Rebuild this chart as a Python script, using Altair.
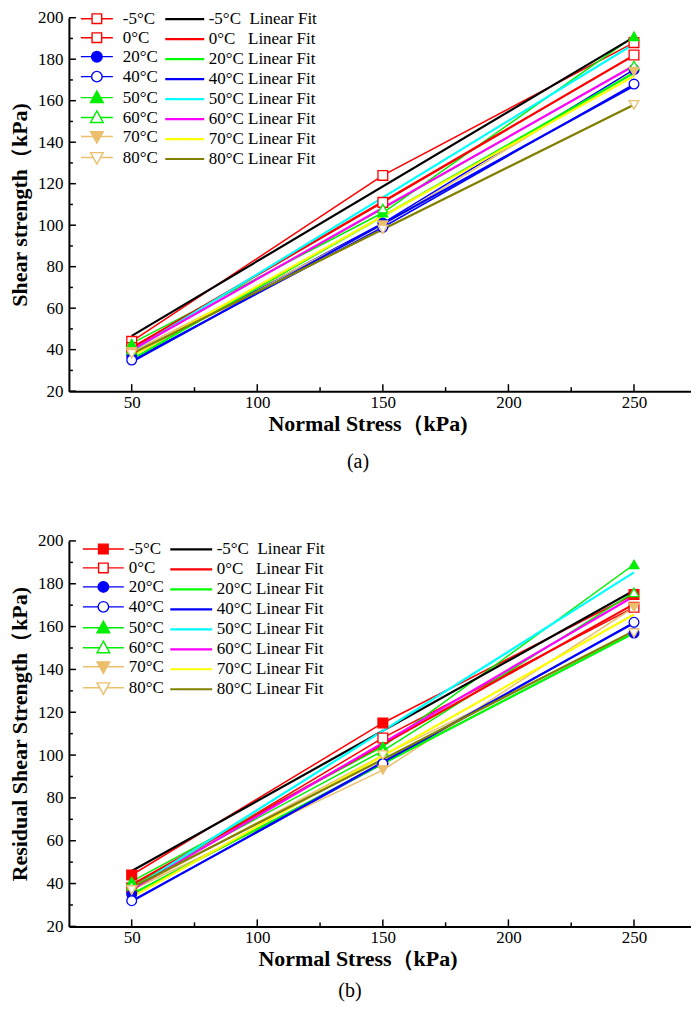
import altair as alt
import pandas as pd

# ---------------- data ----------------
temps = ["-5°C", "\u20040°C", "20°C", "40°C", "50°C", "60°C", "70°C", "80°C"]
fit_labels = ["-5°C\u00a0 Linear Fit", "0°C\u00a0\u00a0 Linear Fit", "20°C Linear Fit",
              "40°C Linear Fit", "50°C Linear Fit", "60°C Linear Fit",
              "70°C Linear Fit", "80°C Linear Fit"]
stress = [50, 150, 250]

# (a) shear strength, kPa
shear_m5 = [44, 124, 188]
shear_0 = [41, 111, 182]
shear_20 = [37, 101, 175]
shear_40 = [35, 99, 168]
shear_50 = [43, 106, 191]
shear_60 = [40, 108, 177]
shear_70 = [39, 100, 174]
shear_80 = [38, 98, 158]

# (b) residual shear strength, kPa
res_m5 = [44, 115, 175]
res_0 = [38, 108, 169]
res_20 = [35, 96, 157]
res_40 = [32, 96, 162]
res_50 = [41, 104, 189]
res_60 = [39, 102, 176]
res_70 = [37, 93, 169]
res_80 = [37, 100, 157]

y_ticks = [20, 40, 60, 80, 100, 120, 140, 160, 180, 200]
y_minor = [30, 50, 70, 90, 110, 130, 150, 170, 190]
x_ticks = [50, 100, 150, 200, 250]
x_minor = [75, 125, 175, 225]

# ---------------- styles ----------------
RED, BLUE, GREEN, TAN = "#FF0000", "#0000FF", "#00EE00", "#EBBF6C"
line_colors = [RED, RED, BLUE, BLUE, GREEN, GREEN, TAN, TAN]
fill_a = ["white", "white", BLUE, "white", GREEN, "white", TAN, "white"]
fill_b = [RED, "white", BLUE, "white", GREEN, "white", TAN, "white"]
marker_shapes = ["square", "square", "circle", "circle",
                 "triangle-up", "triangle-up", "triangle-down", "triangle-down"]
fit_colors = ["#000000", "#FF0000", "#00FF00", "#0000FF",
              "#00FFFF", "#FF00FF", "#FFFF00", "#808000"]
SERIF = "Liberation Serif"
UNIT = 8.0  # legend symbol unit (px) -> symbolSize = (2*UNIT)^2


def r(v):
    return f"{v:.3f}".rstrip("0").rstrip(".")


def legend_paths(half_len):
    L = half_len / UNIT
    h = 4.8 / UNIT

    def stub(e):
        return f"M{r(-L)},0H{r(-e)}M{r(e)},0H{r(L)}"
    sq = stub(h) + f"M{r(-h)},{r(-h)}H{r(h)}V{r(h)}H{r(-h)}Z"
    c = h * 1.1
    circ = stub(c) + f"M{r(c)},0A{r(c)},{r(c)},0,1,1,{r(-c)},0A{r(c)},{r(c)},0,1,1,{r(c)},0Z"
    t = h * 1.2
    tu = stub(0.6 * t) + f"M0,{r(-1.15 * t)}L{r(1.1 * t)},{r(0.85 * t)}L{r(-1.1 * t)},{r(0.85 * t)}Z"
    td = stub(0.6 * t) + f"M0,{r(1.15 * t)}L{r(1.1 * t)},{r(-0.85 * t)}L{r(-1.1 * t)},{r(-0.85 * t)}Z"
    return [sq, sq, circ, circ, tu, tu, td, td]


W = 623
X_DOMAIN = [25, 272.7]


def panel(series, fills, ytitle, caption, H, leg_half, leg_gap, fit_half, leg_pos, fit_pos,
          cap_dx, cap_offset, xtitle_x):
    rows = []
    for t, f, mk, vals in zip(temps, fit_labels, marker_shapes, series):
        for x, y in zip(stress, vals):
            rows.append({"temp": t, "fit": f, "mk": mk, "stress": x, "strength": y})
    df = pd.DataFrame(rows)

    xs = alt.Scale(domain=X_DOMAIN, nice=False, zero=False)
    ys = alt.Scale(domain=[20, 200], nice=False, zero=False)
    xtitle = "Normal Stress（kPa)"
    x_axis = alt.Axis(values=x_ticks, ticks=False, grid=False, labelPadding=3,
                      titlePadding=3, titleX=xtitle_x)
    y_axis = alt.Axis(values=y_ticks, ticks=False, grid=False, labelPadding=6,
                      titlePadding=6)

    def X(field):
        return alt.X(field, scale=xs, title=xtitle, axis=x_axis)

    def Y(field):
        return alt.Y(field, scale=ys, title=ytitle, axis=y_axis)

    stroke_scale = alt.Scale(domain=temps, range=line_colors)
    fill_scale = alt.Scale(domain=temps, range=fills)

    base = alt.Chart(df)

    # legend carrier (no marks drawn) -- first child so its legend settings win
    leg = alt.Legend(title=None, orient="none", legendX=leg_pos[0], legendY=leg_pos[1],
                     symbolSize=(2 * UNIT) ** 2, symbolStrokeWidth=1.4, symbolOpacity=1,
                     labelFont=SERIF, labelFontSize=17, labelColor="black",
                     rowPadding=2, padding=0, labelOffset=leg_half - UNIT + leg_gap)
    legend_layer = base.transform_filter("false").mark_point(
        filled=True, strokeWidth=1.4, opacity=1
    ).encode(
        x=X("stress:Q"), y=Y("strength:Q"),
        shape=alt.Shape("temp:N", scale=alt.Scale(domain=temps, range=legend_paths(leg_half)),
                        legend=leg),
        stroke=alt.Stroke("temp:N", scale=stroke_scale, legend=leg),
        fill=alt.Fill("temp:N", scale=fill_scale, legend=leg),
    )

    data_lines = base.mark_line(strokeWidth=1.5).encode(
        x=X("stress:Q"), y=Y("strength:Q"),
        stroke=alt.Stroke("temp:N", scale=stroke_scale, legend=None),
    )

    fL = fit_half / UNIT
    fit_legend = alt.Legend(title=None, orient="none", legendX=fit_pos[0], legendY=fit_pos[1],
                            symbolType=f"M{r(-fL)},0H{r(fL)}", symbolSize=(2 * UNIT) ** 2,
                            symbolStrokeWidth=2.2,
                            labelFont=SERIF, labelFontSize=17, labelColor="black",
                            rowPadding=2, padding=0, labelOffset=fit_half - UNIT + 3,
                            labelLimit=300)
    fits = base.transform_regression(
        "stress", "strength", groupby=["fit"], extent=[50, 250]
    ).mark_line(strokeWidth=2.2).encode(
        x=X("stress:Q"), y=Y("strength:Q"),
        color=alt.Color("fit:N", scale=alt.Scale(domain=fit_labels, range=fit_colors),
                        legend=fit_legend),
    )

    point_layers = []
    for s in ["square", "circle", "triangle-up", "triangle-down"]:
        point_layers.append(
            base.transform_filter(alt.datum.mk == s).mark_point(
                shape=s, filled=True, size=95, strokeWidth=1.3, opacity=1
            ).encode(
                x=X("stress:Q"), y=Y("strength:Q"),
                stroke=alt.Stroke("temp:N", scale=stroke_scale, legend=None),
                fill=alt.Fill("temp:N", scale=fill_scale, legend=None),
            )
        )

    def yt(vals, Ln):
        return alt.Chart(pd.DataFrame({"v": vals})).mark_rule(color="black", strokeWidth=1.5).encode(
            y=Y("v:Q"), x=alt.value(0), x2=alt.value(Ln))

    def xt(vals, Ln):
        return alt.Chart(pd.DataFrame({"v": vals})).mark_rule(color="black", strokeWidth=1.5).encode(
            x=X("v:Q"), y=alt.value(H), y2=alt.value(H - Ln))

    layer = alt.layer(
        legend_layer, data_lines, fits, *point_layers,
        yt(y_ticks, 7), yt(y_minor, 4), xt(x_ticks, 7), xt(x_minor, 4),
    ).properties(
        width=W, height=H,
        title=alt.TitleParams(caption, orient="bottom", font=SERIF, fontSize=20,
                              fontWeight="normal", dx=cap_dx, offset=cap_offset, color="black"),
    )
    return layer


series_a = [shear_m5, shear_0, shear_20, shear_40, shear_50, shear_60, shear_70, shear_80]
series_b = [res_m5, res_0, res_20, res_40, res_50, res_60, res_70, res_80]

top = panel(series_a, fill_a, "Shear strength（kPa)", "(a)", 374, 16, 9, 19.5,
            (19, -8), (106.5, -8), -22, 18, 299)
bottom = panel(series_b, fill_b, "Residual Shear Strength（kPa)", "(b)", 386, 20.5, 4, 21,
               (25.5, -1), (113, -1), -30, 12, 289)

chart = alt.vconcat(top, bottom, spacing=60).resolve_scale(
    color="independent", stroke="independent", fill="independent", shape="independent"
).resolve_legend(
    color="independent", stroke="independent", fill="independent", shape="independent"
).properties(
    padding=0, background="white"
).configure_view(stroke=None).configure_axis(
    domainColor="black", domainWidth=2, labelFont=SERIF, labelFontSize=17,
    labelColor="black", titleFont=SERIF, titleFontSize=22, titleFontWeight="bold",
    titleColor="black",
)

chart.save("out.html", embed_options={"renderer": "svg", "actions": False})
